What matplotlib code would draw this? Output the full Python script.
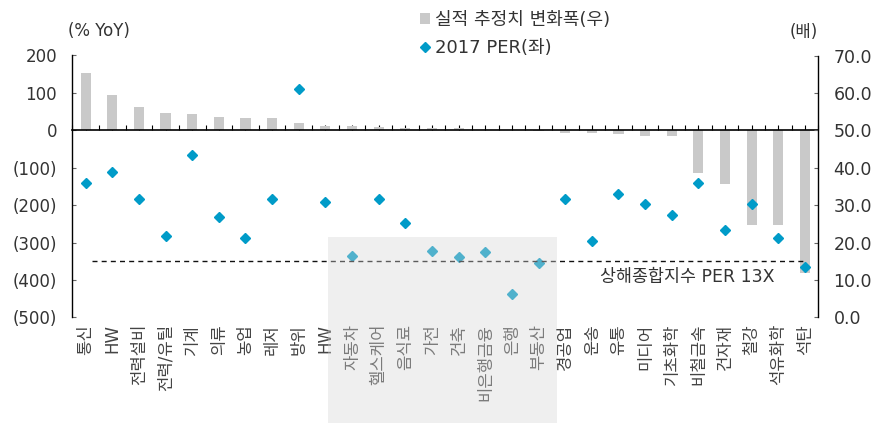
import matplotlib
matplotlib.use('Agg')
import matplotlib.pyplot as plt
from matplotlib.patches import Rectangle
from matplotlib.ticker import FuncFormatter
import numpy as np

plt.rcParams['font.family'] = ['DejaVu Sans', 'Noto Sans CJK KR']

sectors = ['통신', 'HW', '전력설비', '전력/유틸', '기계', '의류', '농업', '레저', '방위', 'HW',
           '자동차', '헬스케어', '음식료', '가전', '건축', '비은행금융', '은행', '부동산',
           '경공업', '운송', '유통', '미디어', '기초화학', '비철금속', '건자재', '철강',
           '석유화학', '석탄']
# earnings estimate change, % YoY (left axis)
est_change = [154, 94, 62, 46, 44, 36, 33, 33, 20, 12,
              11, 9, 7, 7, 6, 2, 0, -1.5,
              -6, -6, -10, -14, -16, -113, -144, -252,
              -252, -381]
# 2017 PER, x (right axis)
per_2017 = [35.8, 38.8, 31.7, 21.7, 43.5, 26.9, 21.2, 31.7, 61.0, 30.7,
            16.3, 31.6, 25.2, 17.8, 16.2, 17.5, 6.3, 14.4,
            31.6, 20.5, 33.0, 30.2, 27.3, 35.8, 23.3, 30.2,
            21.1, 13.4]
shanghai_per = 15.0

bar_color = '#c9c9c9'
dia_color = '#009bc8'
txt_color = '#333333'

fig = plt.figure(figsize=(8.83, 4.23), dpi=100)
ax = fig.add_axes([72.3 / 883, 1 - 317.3 / 423, 746 / 883, 261.8 / 423])
ax2 = ax.twinx()

x = np.arange(len(sectors))
ax.bar(x, est_change, width=0.38, color=bar_color, zorder=2, label='실적 추정치 변화폭(우)')
ax2.plot(x, per_2017, linestyle='none', marker='D', markersize=5.5, color=dia_color,
         zorder=3, label='2017 PER(좌)')

ax.set_xlim(-0.5, len(sectors) - 0.5)
ax.set_ylim(-500, 200)
ax.set_yticks(np.arange(-500, 201, 100))
ax.yaxis.set_major_formatter(FuncFormatter(lambda v, p: f'({abs(int(v))})' if v < 0 else f'{int(v)}'))
ax2.set_ylim(0, 70)
ax2.set_yticks(np.arange(0, 71, 10))
ax2.yaxis.set_major_formatter(FuncFormatter(lambda v, p: f'{v:.1f}'))

for a in (ax, ax2):
    a.spines['top'].set_visible(False)
    a.patch.set_visible(False)
ax2.spines['bottom'].set_visible(False)
ax2.spines['left'].set_visible(False)
ax.spines['right'].set_visible(False)
ax.spines['bottom'].set_position(('data', 0))
ax.spines['bottom'].set_linewidth(1.2)
ax.spines['left'].set_linewidth(1.0)
ax2.spines['right'].set_linewidth(1.0)

ax.set_xticks(x)
ax.set_xticks(np.arange(-0.5, len(sectors), 1.0), minor=True)
ax.tick_params(axis='x', which='both', direction='in', length=3.5, width=0.8,
               labelbottom=False)
ax.tick_params(axis='y', direction='in', length=3, width=0.8, pad=11,
               labelsize=12, labelcolor=txt_color, color='#666666')
ax2.tick_params(axis='y', direction='in', length=3, width=0.8, pad=11,
                labelsize=12.5, labelcolor=txt_color, color='#666666')

for i, name in enumerate(sectors):
    ax.text(i, -0.025, name, transform=ax.get_xaxis_transform(), rotation=90,
            ha='center', va='top', fontsize=12, color='#444444')

ax2.axhline(shanghai_per, xmin=0.026, xmax=0.985, color='#111111', lw=1.0,
            dashes=(3.6, 3.0), zorder=4)
ax2.text(25.85, 10.9, '상해종합지수 PER 13X', ha='right', va='center',
         fontsize=12.5, color=txt_color)

fig.text(68 / 883, 1 - 31 / 423, '(% YoY)', ha='left', va='center', fontsize=12, color=txt_color)
fig.text(818 / 883, 1 - 32 / 423, '(배)', ha='right', va='center', fontsize=12, color=txt_color)

h1, l1 = ax.get_legend_handles_labels()
h2, l2 = ax2.get_legend_handles_labels()
fig.legend(h1 + h2, l1 + l2, loc='upper left', bbox_to_anchor=(420 / 883, 1 - 11 / 423),
           frameon=False, fontsize=13, handlelength=0.55, handleheight=0.55,
           handletextpad=0.3, labelspacing=0.56, borderpad=0, borderaxespad=0,
           labelcolor=txt_color)

# grey highlight box over the middle sectors
fig.add_artist(Rectangle((328 / 883, 0.0), 229 / 883, (423 - 237) / 423,
                         transform=fig.transFigure, facecolor='#d5d5d5', alpha=0.38,
                         edgecolor='none', zorder=10))

fig.savefig('out.png', dpi=100)
